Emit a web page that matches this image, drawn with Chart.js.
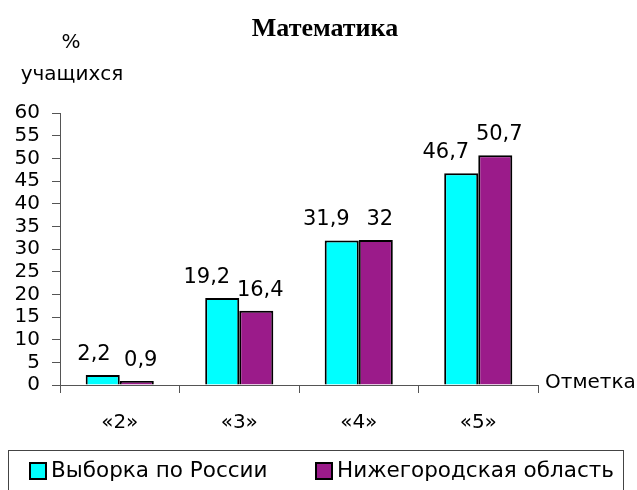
<!DOCTYPE html>
<html>
<head>
<meta charset="utf-8">
<script src="https://cdn.jsdelivr.net/npm/chart.js@4.4.1/dist/chart.umd.min.js"></script>
<style>
  html, body { margin: 0; padding: 0; background: #fff; }
  #wrap { width: 637px; height: 490px; position: relative; }
</style>
</head>
<body>
<div id="wrap"><canvas id="chart" width="637" height="490"></canvas></div>
<script>
// ---------- DATA ----------
const categories = ["«2»", "«3»", "«4»", "«5»"];
const russia = [2.2, 19.2, 31.9, 46.7];
const nizhny = [0.9, 16.4, 32, 50.7];
const seriesNames = ["Выборка по России", "Нижегородская область"];
const chartTitle = "Математика";
const yTitle = ["%", "учащихся"];
const xTitle = "Отметка";

const SANS = "'DejaVu Sans', Arial, sans-serif";
const SERIF = "'Liberation Serif', 'Times New Roman', serif";

// Titles, value labels and legend box drawn on top of the chart
const extras = {
  id: "extras",
  afterDatasetsDraw(chart) {
    const ctx = chart.ctx;
    ctx.save();
    ctx.fillStyle = "#000";

    // chart title
    ctx.font = "bold 26px " + SERIF;
    ctx.textAlign = "center";
    ctx.textBaseline = "middle";
    ctx.fillText(chartTitle, 325, 29);

    // axis titles
    ctx.font = "20px " + SANS;
    ctx.fillText(yTitle[0], 71, 43);
    ctx.fillText(yTitle[1], 72, 75);
    ctx.textAlign = "left";
    ctx.fillText(xTitle, 545, 383);

    // value labels
    ctx.font = "21px " + SANS;
    ctx.textBaseline = "alphabetic";
    chart.data.datasets.forEach((ds, i) => {
      const meta = chart.getDatasetMeta(i);
      meta.data.forEach((bar, j) => {
        const txt = String(ds.data[j]).replace(".", ",");
        if (i === 0) {
          ctx.textAlign = "right";
          ctx.fillText(txt, bar.x + 8, bar.y - 15);
        } else {
          ctx.textAlign = "center";
          ctx.fillText(txt, bar.x + 4, bar.y - 15);
        }
      });
    });

    // legend
    ctx.strokeStyle = "#444";
    ctx.lineWidth = 1;
    ctx.strokeRect(8.5, 450.5, 615, 50);
    const legendX = [30, 316];
    chart.data.datasets.forEach((ds, i) => {
      const x = legendX[i];
      ctx.fillStyle = ds.backgroundColor;
      ctx.fillRect(x, 463, 16, 16);
      ctx.strokeStyle = "#000";
      ctx.lineWidth = 2;
      ctx.strokeRect(x, 463, 16, 16);
      ctx.fillStyle = "#000";
      ctx.textAlign = "left";
      ctx.textBaseline = "middle";
      ctx.font = "21.5px " + SANS;
      ctx.fillText(ds.label, x + 21, 471);
    });
    ctx.restore();
  }
};

new Chart(document.getElementById("chart"), {
  type: "bar",
  data: {
    labels: categories,
    datasets: [
      {
        label: seriesNames[0],
        data: russia,
        backgroundColor: "#00FFFF",
        borderColor: "#000",
        borderWidth: 2
      },
      {
        label: seriesNames[1],
        data: nizhny,
        backgroundColor: "#9B1B8A",
        borderColor: "#000",
        borderWidth: 2
      }
    ]
  },
  options: {
    responsive: false,
    animation: false,
    layout: { padding: { left: 0, top: 113, right: 99, bottom: 55 } },
    datasets: { bar: { categoryPercentage: 0.57, barPercentage: 1.0 } },
    plugins: {
      legend: { display: false },
      title: { display: false },
      tooltip: { enabled: false }
    },
    scales: {
      x: {
        offset: true,
        grid: { offset: true, drawOnChartArea: false, tickLength: 8, color: "#555" },
        border: { color: "#555", width: 1 },
        ticks: { color: "#000", font: { family: SANS, size: 20 }, padding: 18 },
        afterFit(scale) { scale.height = 50; }
      },
      y: {
        min: 0,
        max: 60,
        ticks: { stepSize: 5, autoSkip: false, color: "#000", font: { family: SANS, size: 20, lineHeight: 1 }, padding: 12 },
        grid: { drawOnChartArea: false, tickLength: 8, color: "#555" },
        border: { color: "#555", width: 1 },
        afterFit(scale) { scale.width = 60; }
      }
    }
  },
  plugins: [extras]
});
</script>
</body>
</html>
